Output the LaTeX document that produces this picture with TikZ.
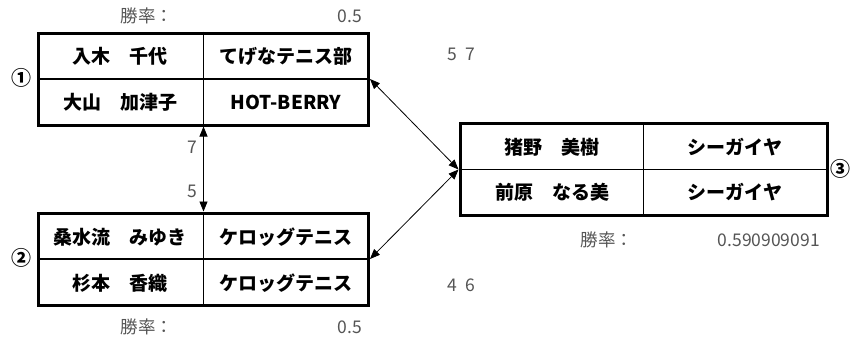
\documentclass[tikz,border=0pt]{standalone}
\usepackage{fontspec}
\setmainfont{Noto Sans CJK JP}
\usetikzlibrary{arrows.meta}
\definecolor{graytxt}{HTML}{555555}
\tikzset{
  frame/.style={draw, line width=3pt, minimum width=330pt, minimum height=92pt, inner sep=0pt},
  frame3/.style={frame, minimum width=367pt},
  divider/.style={line width=1.5pt},
  cell/.style={font=\bfseries\fontsize{19}{22}\selectfont, inner sep=0pt},
  graylbl/.style={text=graytxt, font=\fontsize{17.5}{20}\selectfont, inner sep=0pt},
  circnum/.style={font=\bfseries\fontsize{20}{22}\selectfont, inner sep=0pt},
  conn/.style={line width=0.8pt, {Triangle[length=10pt,width=8pt]}-{Triangle[length=10pt,width=8pt]}}
}
\begin{document}
\begin{tikzpicture}[x=1pt,y=-1pt]
\useasboundingbox (0,0) rectangle (850,343);
% frames
\node[frame] (b1) at (203.5,79) {};
\node[frame] (b2) at (203.5,259) {};
\node[frame3] (b3) at (643.5,169.5) {};
% dividers
\draw[divider] (b1.north) -- (b1.south);
\draw[divider] (b1.west) -- (b1.east);
\draw[divider] (b2.north) -- (b2.south);
\draw[divider] (b2.west) -- (b2.east);
\draw[divider] (b3.north) -- (b3.south);
\draw[divider] (b3.west) -- (b3.east);
% cells box 1
\node[cell] (c11) at (120,56) {入木　千代};
\node[cell] (c12) at (286,56) {てげなテニス部};
\node[cell] (c13) at (120,102) {大山　加津子};
\node[cell] (c14) at (286,102) {HOT-BERRY};
% cells box 2
\node[cell] (c21) at (120,237) {桑水流　みゆき};
\node[cell] (c22) at (286,237) {ケロッグテニス};
\node[cell] (c23) at (120,283) {杉本　香織};
\node[cell] (c24) at (286,283) {ケロッグテニス};
% cells box 3
\node[cell] (c31) at (552,147) {猪野　美樹};
\node[cell] (c32) at (735,147) {シーガイヤ};
\node[cell] (c33) at (552,192) {前原　なる美};
\node[cell] (c34) at (735,192) {シーガイヤ};
% circled numbers
\node[circnum] (n1) at (22,78) {①};
\node[circnum] (n2) at (22,258) {②};
\node[circnum] (n3) at (840,169) {③};
% win rates
\node[graylbl] (w1a) at (147,16) {勝率：};
\node[graylbl, anchor=east] (w1b) at (362,16) {0.5};
\node[graylbl] (w2a) at (147,327) {勝率：};
\node[graylbl, anchor=east] (w2b) at (362,327) {0.5};
\node[graylbl] (w3a) at (607,240) {勝率：};
\node[graylbl, anchor=east] (w3b) at (820,240) {0.590909091};
% scores
\node[graylbl] (s1) at (461,54) {5\hspace{8pt}7};
\node[graylbl] (s2) at (461,285) {4\hspace{8pt}6};
% connectors
\draw[conn] (b1.south) -- (b2.north);
\node[graylbl] (l7) at (192,147) {7};
\node[graylbl] (l5) at (192,191) {5};
\draw[conn] (b1.east) -- (b3.west);
\draw[conn] (b2.east) -- (b3.west);
\end{tikzpicture}
\end{document}
